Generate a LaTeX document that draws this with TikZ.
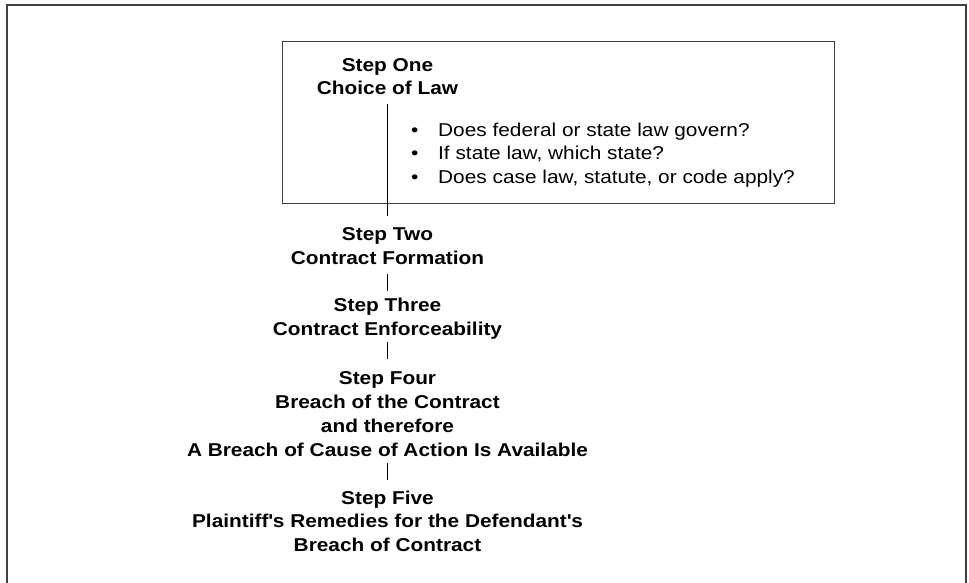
\documentclass[tikz,border=0pt]{standalone}
\usepackage{fontspec}
\setmainfont{Liberation Sans}[FakeStretch=1.12]
\begin{document}
\begin{tikzpicture}[x=1pt,y=-1pt,
  steptext/.style={font=\bfseries\fontsize{18.6}{23.8}\selectfont, align=center, inner sep=0pt, anchor=base},
  bullettext/.style={font=\fontsize{18.6}{23.5}\selectfont, align=left, inner sep=0pt, anchor=base west},
  conn/.style={line width=1pt, black},
  frame/.style={line width=2pt, draw=black!75},
  boxstyle/.style={draw=black!75, line width=1.3pt, inner sep=0pt, anchor=north west, minimum width=552pt, minimum height=162pt}
]
\useasboundingbox (0,0) rectangle (969,583);
\draw[frame] (6.5,590) -- (6.5,5) -- (965.5,5) -- (965.5,590);
\node[boxstyle] (box) at (282,41) {};
\node[steptext] (s1) at (387.5,95) {Step One\\Choice of Law};
\node[bullettext] (list) at (411,183) {\makebox[27pt][l]{\textbullet}Does federal or state law govern?\\\makebox[27pt][l]{\textbullet}If state law, which state?\\\makebox[27pt][l]{\textbullet}Does case law, statute, or code apply?};
\node[steptext] (s2) at (387.5,264) {Step Two\\Contract Formation};
\node[steptext] (s3) at (387.5,335) {Step Three\\Contract Enforceability};
\node[steptext] (s4) at (387.5,456) {Step Four\\Breach of the Contract\\and therefore\\A Breach of Cause of Action Is Available};
\node[steptext] (s5) at (387.5,551.7) {Step Five\\Plaintiff\textquotesingle s Remedies for the Defendant\textquotesingle s\\Breach of Contract};
\draw[conn] (s1.south |- 0,104) -- (s2.north |- 0,216);
\draw[conn] (s2.south |- 0,274) -- (s3.north |- 0,291);
\draw[conn] (s3.south |- 0,342) -- (s4.north |- 0,359);
\draw[conn] (s4.south |- 0,463) -- (s5.north |- 0,480);
\end{tikzpicture}
\end{document}
